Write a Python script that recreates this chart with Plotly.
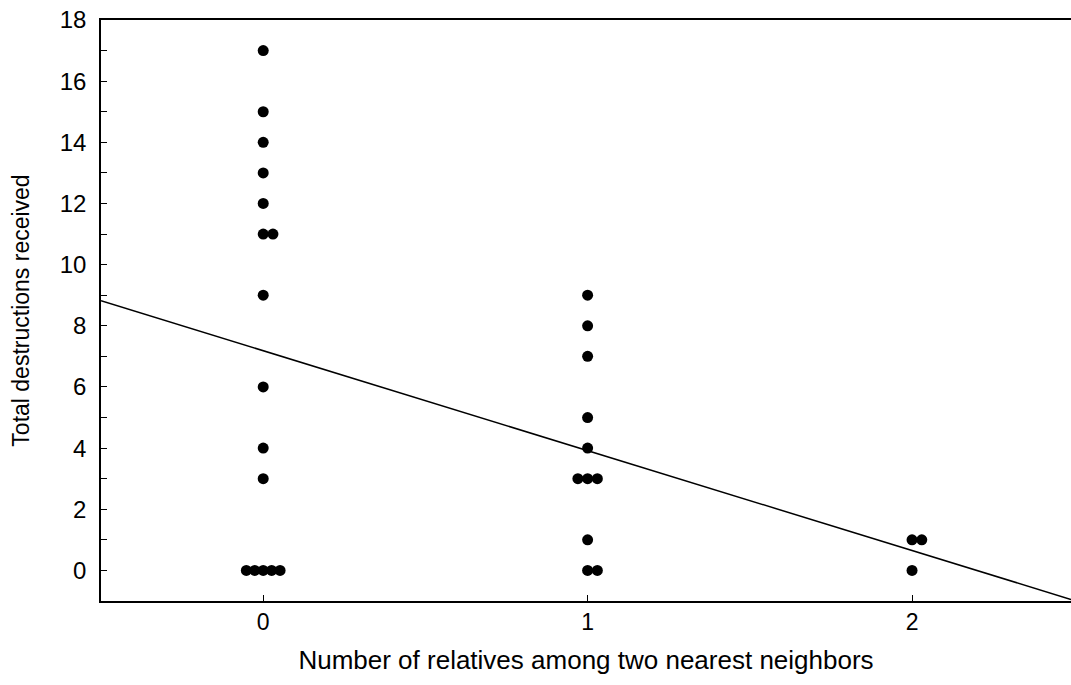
import numpy as np
import plotly.graph_objects as go

# Data: group (number of relatives), jitter offset within the group, destructions received
group = [0, 0, 0, 0, 0, 0, 0, 0, 0, 0, 0, 0, 0, 0, 0, 0,
         1, 1, 1, 1, 1, 1, 1, 1, 1, 1, 1,
         2, 2, 2]
jitter = [0, 0, 0, 0, 0, 0, 0.03, 0, 0, 0, 0, -0.052, -0.026, 0, 0.026, 0.052,
          0, 0, 0, 0, 0, -0.03, 0, 0.03, 0, 0, 0.03,
          0, 0.03, 0]
destructions = [17, 15, 14, 13, 12, 11, 11, 9, 6, 4, 3, 0, 0, 0, 0, 0,
                9, 8, 7, 5, 4, 3, 3, 3, 1, 0, 0,
                1, 1, 0]

x_ticks = [0, 1, 2]
y_ticks = [0, 2, 4, 6, 8, 10, 12, 14, 16, 18]
x_range = [-0.5, 2.49]
y_range = [-1, 18]

xs = np.array(group, dtype=float) + np.array(jitter)
ys = np.array(destructions, dtype=float)

slope, intercept = np.polyfit(np.array(group, dtype=float), ys, 1)
line_x = np.array(x_range)
line_y = intercept + slope * line_x

fig = go.Figure()
fig.add_trace(go.Scatter(x=line_x, y=line_y, mode="lines",
                         line=dict(color="black", width=1.5),
                         showlegend=False, hoverinfo="skip", cliponaxis=True))
fig.add_trace(go.Scatter(x=xs, y=ys, mode="markers",
                         marker=dict(color="black", size=11, line=dict(width=0)),
                         showlegend=False))

font_family = "Liberation Sans, Arial, sans-serif"
fig.update_layout(
    width=1071, height=685,
    margin=dict(l=101, r=0, t=20, b=84),
    paper_bgcolor="white", plot_bgcolor="white",
    font=dict(family=font_family, color="black"),
    xaxis=dict(range=x_range, tickvals=x_ticks, ticktext=[str(v) for v in x_ticks],
               showgrid=False, zeroline=False, showline=True, linecolor="black",
               linewidth=1.5, mirror=True, ticks="inside", ticklen=6, tickwidth=1,
               tickcolor="black", tickfont=dict(size=23, family=font_family),
               title=dict(text="Number of relatives among two nearest neighbors",
                          font=dict(size=26, family=font_family), standoff=16)),
    yaxis=dict(range=y_range, tickvals=y_ticks, ticktext=[str(v) for v in y_ticks],
               showgrid=False, zeroline=False, showline=True, linecolor="black",
               linewidth=1.5, ticks="inside", ticklen=6, tickwidth=1,
               tickcolor="black", tickfont=dict(size=24, family=font_family),
               ticklabelstandoff=8,
               minor=dict(dtick=1, tick0=1, ticks="inside", ticklen=6, tickwidth=1,
                          tickcolor="black", showgrid=False),
               title=dict(text="Total destructions received",
                          font=dict(size=23, family=font_family), standoff=24)),
)

fig.write_html("out.html")
